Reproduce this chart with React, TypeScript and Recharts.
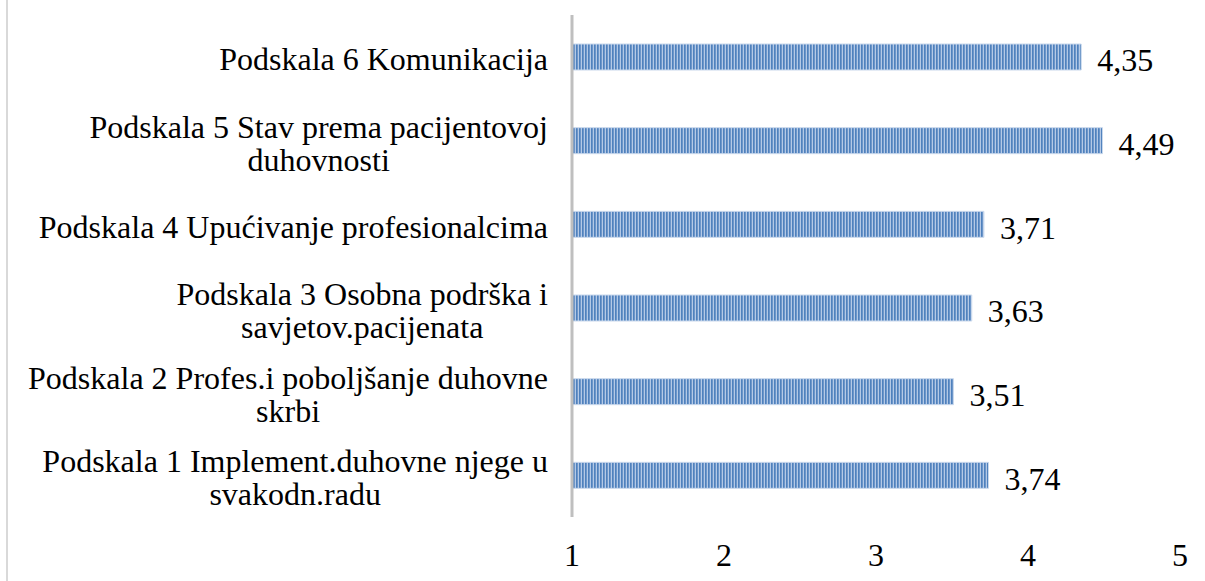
import { BarChart, Bar, XAxis, YAxis, LabelList } from 'recharts';

// subscales, listed top to bottom as in the original chart
const categories = [
  'Podskala 6 Komunikacija',
  'Podskala 5 Stav prema pacijentovoj\nduhovnosti',
  'Podskala 4 Upućivanje profesionalcima',
  'Podskala 3 Osobna podrška i\nsavjetov.pacijenata',
  'Podskala 2 Profes.i poboljšanje duhovne\nskrbi',
  'Podskala 1 Implement.duhovne njege u\nsvakodn.radu',
];
const means = [4.35, 4.49, 3.71, 3.63, 3.51, 3.74];
const xTicks = [1, 2, 3, 4, 5];

const FONT = '"Liberation Serif", "Times New Roman", serif';

const data = categories.map((name, i) => ({ name, value: means[i] }));

function CategoryTick({ y, payload }: any) {
  return (
    <foreignObject x={0} y={y - 60} width={548} height={120}>
      <div
        style={{
          display: 'flex',
          height: '100%',
          alignItems: 'center',
          justifyContent: 'flex-end',
        }}
      >
        <div
          style={{
            textAlign: 'center',
            whiteSpace: 'pre-line',
            fontFamily: FONT,
            fontSize: 32,
            lineHeight: '33px',
            color: '#000',
            paddingTop: 6,
          }}
        >
          {payload.value}
        </div>
      </div>
    </foreignObject>
  );
}

export default function App() {
  return (
    <div style={{ position: 'absolute', left: 0, top: 0, width: 1205, height: 581, background: '#fff' }}>
      {/* faint frame line on the left edge */}
      <div style={{ position: 'absolute', left: 6, top: 0, width: 2, height: 581, background: '#d9d9d9' }} />
      <BarChart
        width={1205}
        height={581}
        data={data}
        layout="vertical"
        margin={{ top: 15, right: 25, bottom: 0, left: 0 }}
        barCategoryGap={0}
      >
        <defs>
          <pattern id="stripes" patternUnits="userSpaceOnUse" width={3} height={10}>
            <rect x={0} y={0} width={3} height={10} fill="#b4c9e6" />
            <rect x={0} y={0} width={1.7} height={10} fill="#4f81bd" />
          </pattern>
        </defs>
        <XAxis
          type="number"
          domain={[1, 5]}
          ticks={xTicks}
          axisLine={false}
          tickLine={false}
          tickMargin={20}
          height={64}
          tick={{ fontSize: 32, fill: '#000', fontFamily: FONT }}
        />
        <YAxis
          type="category"
          dataKey="name"
          width={572}
          axisLine={{ stroke: '#bfbfbf', strokeWidth: 3 }}
          tickLine={false}
          tick={<CategoryTick />}
          interval={0}
        />
        <Bar
          dataKey="value"
          barSize={26}
          fill="url(#stripes)"
          stroke="#c9d8ec"
          strokeWidth={1}
          isAnimationActive={false}
        >
          <LabelList
            dataKey="value"
            position="right"
            offset={16}
            formatter={(v: any) => String(v).replace('.', ',')}
            style={{ fontSize: 32, fill: '#000', fontFamily: FONT }}
            dy={3}
          />
        </Bar>
      </BarChart>
    </div>
  );
}
